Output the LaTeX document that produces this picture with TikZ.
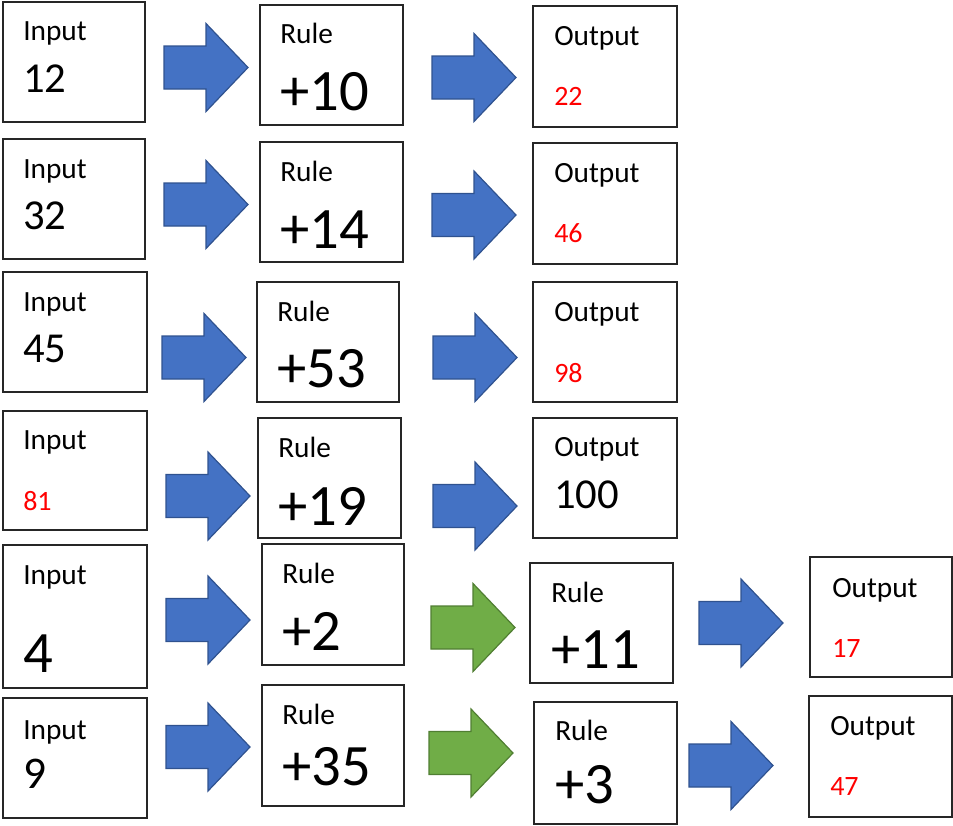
\documentclass[tikz,border=0pt]{standalone}
\usepackage{fontspec}
\setmainfont{Carlito}
\definecolor{arrowblue}{HTML}{4472C4}
\definecolor{blueedge}{HTML}{2F528F}
\definecolor{arrowgreen}{HTML}{70AD47}
\definecolor{greenedge}{HTML}{507E32}
\tikzset{
	box/.style={draw=black!85, line width=1pt},
	lbl/.style={anchor=base west, inner sep=0pt, font=\fontsize{22}{26}\selectfont},
	num/.style={anchor=base west, inner sep=0pt, font=\fontsize{32}{38}\selectfont},
	bignum/.style={anchor=base west, inner sep=0pt, font=\fontsize{44}{52}\selectfont},
	ans/.style={anchor=base west, inner sep=0pt, text=red, font=\fontsize{21}{25}\selectfont},
	blockarrow/.pic={\path[pic actions] (0,-21.5) -- (42,-21.5) -- (42,-44) -- (84,0) -- (42,44) -- (42,21.5) -- (0,21.5) -- cycle;}
}
\begin{document}
\begin{tikzpicture}[x=0.75pt, y=-0.75pt]
\useasboundingbox (0,0) rectangle (953,825);
% boxes
\draw[box] (3,2) rectangle (145,122);
\draw[box] (260,5) rectangle (403,125);
\draw[box] (533,6) rectangle (677,127);
\draw[box] (3,139) rectangle (145,259);
\draw[box] (260,142) rectangle (403,262);
\draw[box] (533,143) rectangle (677,264);
\draw[box] (3,272) rectangle (147,392);
\draw[box] (257,282) rectangle (399,402);
\draw[box] (533,282) rectangle (677,402);
\draw[box] (3,411) rectangle (147,530);
\draw[box] (258,418) rectangle (401,538);
\draw[box] (533,418) rectangle (677,538);
\draw[box] (3,545) rectangle (147,688);
\draw[box] (262,544) rectangle (404,665);
\draw[box] (530,563) rectangle (673,683);
\draw[box] (810,557) rectangle (952,677);
\draw[box] (3,698) rectangle (147,818);
\draw[box] (262,685) rectangle (404,806);
\draw[box] (534,702) rectangle (677,824);
\draw[box] (809,696) rectangle (952,817);
% arrows
\foreach \x/\y in {164/67.5, 432/77.5, 164/204.5, 432/215, 162/357.5, 433/357.5, 166/496, 433/506, 166/620, 699/623, 166/747, 689/765.5}
{\pic[fill=arrowblue, draw=blueedge, line width=0.9pt] at (\x,\y) {blockarrow};
}
\foreach \x/\y in {431/627.5, 429/753}
{\pic[fill=arrowgreen, draw=greenedge, line width=0.9pt] at (\x,\y) {blockarrow};
}
% row 1
\node[lbl] (in1) at (23,40) {Input};
\node[num] (in1v) at (23,92) {12};
\node[lbl] (ru1) at (280,43) {Rule};
\node[bignum] (ru1v) at (280,110) {+10};
\node[lbl] (out1) at (554,45) {Output};
\node[ans] (out1v) at (554,105) {22};
% row 2
\node[lbl] (in2) at (23,178) {Input};
\node[num] (in2v) at (23,229) {32};
\node[lbl] (ru2) at (280,181) {Rule};
\node[bignum] (ru2v) at (280,248) {+14};
\node[lbl] (out2) at (554,182) {Output};
\node[ans] (out2v) at (554,242) {46};
% row 3
\node[lbl] (in3) at (23,311) {Input};
\node[num] (in3v) at (23,362) {45};
\node[lbl] (ru3) at (277,321) {Rule};
\node[bignum] (ru3v) at (277,387) {+53};
\node[lbl] (out3) at (554,321) {Output};
\node[ans] (out3v) at (554,382) {98};
% row 4
\node[lbl] (in4) at (23,449) {Input};
\node[ans] (in4v) at (23,510) {81};
\node[lbl] (ru4) at (278,457) {Rule};
\node[bignum] (ru4v) at (278,525) {+19};
\node[lbl] (out4) at (554,456) {Output};
\node[num] (out4v) at (554,508) {100};
% row 5
\node[lbl] (in5) at (23,584) {Input};
\node[bignum] (in5v) at (23,672) {4};
\node[lbl] (ru5) at (282,583) {Rule};
\node[bignum] (ru5v) at (282,650) {+2};
\node[lbl] (rv5) at (551,602) {Rule};
\node[bignum] (rv5v) at (551,668) {+11};
\node[lbl] (out5) at (832,597) {Output};
\node[ans] (out5v) at (832,657) {17};
% row 6
\node[lbl] (in6) at (23,739) {Input};
\node[num, font=\fontsize{34}{40}\selectfont] (in6v) at (23,788) {9};
\node[lbl] (ru6) at (282,724) {Rule};
\node[bignum] (ru6v) at (282,785) {+35};
\node[lbl] (rv6) at (555,740) {Rule};
\node[bignum] (rv6v) at (555,803) {+3};
\node[lbl] (out6) at (830,735) {Output};
\node[ans] (out6v) at (830,795) {47};
\end{tikzpicture}
\end{document}
